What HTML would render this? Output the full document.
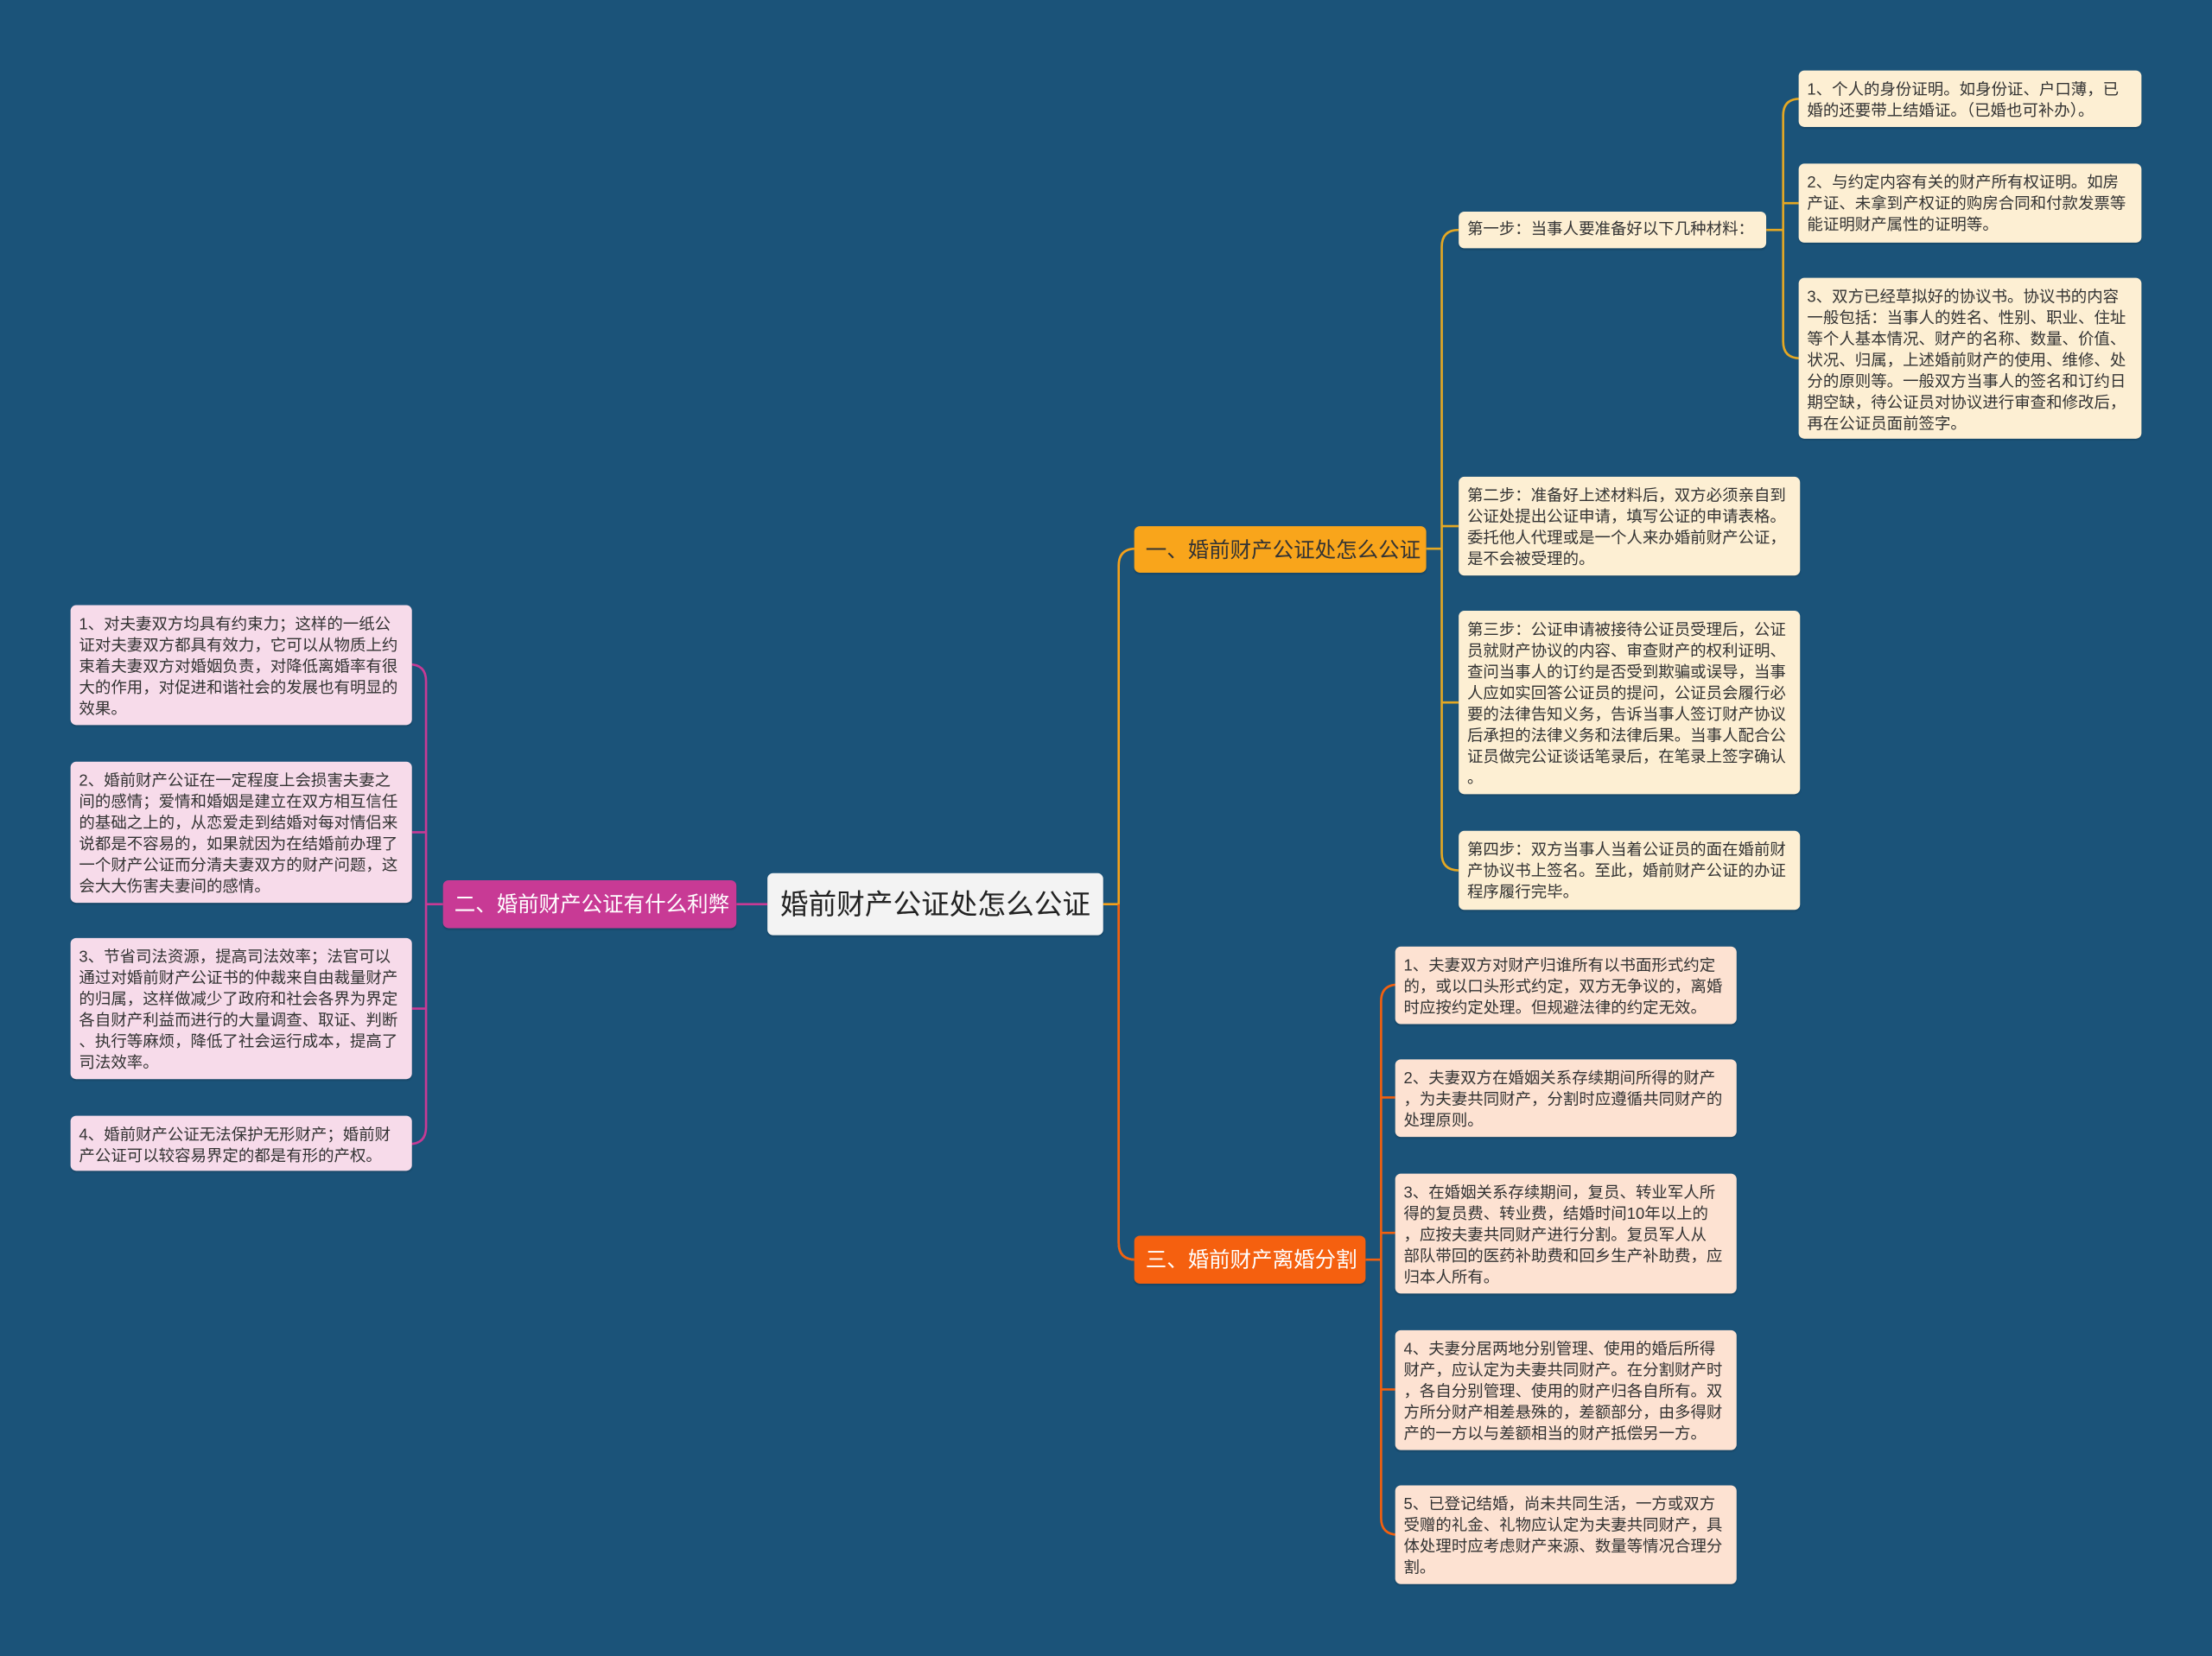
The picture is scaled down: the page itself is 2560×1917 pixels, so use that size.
<!DOCTYPE html>
<html><head><meta charset="utf-8"><style>
html,body{margin:0;padding:0;background:#1b5379;}
#wrap{width:1568px;height:1174px;transform:scale(1.632653,1.632929);transform-origin:0 0;position:relative;font-family:"Liberation Sans","Noto Sans CJK SC",sans-serif;}
.n{position:absolute;box-sizing:border-box;border-radius:4px;font-size:11.3px;line-height:15px;color:#333;padding:7px 6px 5px;white-space:nowrap;overflow:hidden;box-shadow:0 1px 1px rgba(0,0,0,.15);}
.c{background:#fdefd3;}
.p{background:#f7dbea;}
.r{background:#fde2d2;}
svg{position:absolute;left:0;top:0;}
</style></head><body><div id="wrap">
<svg width="1568" height="1174" fill="none" stroke-width="1.6">
<path d="M782 641 H793 M793 401 Q793 389 805 389 M793 401 V881 Q793 893 805 893" stroke="#f5a11a"/>
<path d="M793 641 V881 Q793 893 805 893" stroke="#f2600f"/>
<path d="M544 641 H522" stroke="#c83a95"/>
<path d="M314 641 H302 M302 483 Q302 471 290 471 M302 483 V799 Q302 811 290 811 M302 590 H292 M302 715 H292" stroke="#c83a95"/>
<path d="M1011 389 H1022 M1022 175 Q1022 163 1034 163 M1022 175 V605 Q1022 617 1034 617 M1022 373 H1034 M1022 498 H1034" stroke="#e5a823"/>
<path d="M1252 163 H1264 M1264 82 Q1264 70 1276 70 M1264 82 V242 Q1264 254 1276 254 M1264 144 H1275" stroke="#e5a823"/>
<path d="M968 893 H979 M979 710 Q979 698 991 698 M979 710 V1076 Q979 1088 991 1088 M979 778 H989 M979 874 H989 M979 985 H989" stroke="#f2600f"/>
</svg>

<div class="n" style="left:544px;top:619px;width:238px;height:44px;background:#f3f3f3;font-size:20px;line-height:24px;padding:11px 9px;color:#222;">婚前财产公证处怎么公证</div>
<div class="n" style="left:314px;top:624px;width:208px;height:34px;background:#c83a95;color:#fff;font-size:15px;line-height:20px;padding:8px 8px;">二、婚前财产公证有什么利弊</div>
<div class="n" style="left:804px;top:373px;width:207px;height:33px;background:#f9a51b;color:#333;font-size:15px;line-height:20px;padding:8px 8px;">一、婚前财产公证处怎么公证</div>
<div class="n" style="left:804px;top:876px;width:164px;height:34px;background:#f5600f;color:#fff;font-size:15px;line-height:20px;padding:8px 8px;">三、婚前财产离婚分割</div>

<div class="n p" style="left:50px;top:429px;width:242px;height:85px;">1、对夫妻双方均具有约束力；这样的一纸公<br>证对夫妻双方都具有效力，它可以从物质上约<br>束着夫妻双方对婚姻负责，对降低离婚率有很<br>大的作用，对促进和谐社会的发展也有明显的<br>效果。</div>
<div class="n p" style="left:50px;top:540px;width:242px;height:100px;">2、婚前财产公证在一定程度上会损害夫妻之<br>间的感情；爱情和婚姻是建立在双方相互信任<br>的基础之上的，从恋爱走到结婚对每对情侣来<br>说都是不容易的，如果就因为在结婚前办理了<br>一个财产公证而分清夫妻双方的财产问题，这<br>会大大伤害夫妻间的感情。</div>
<div class="n p" style="left:50px;top:665px;width:242px;height:100px;">3、节省司法资源，提高司法效率；法官可以<br>通过对婚前财产公证书的仲裁来自由裁量财产<br>的归属，这样做减少了政府和社会各界为界定<br>各自财产利益而进行的大量调查、取证、判断<br>、执行等麻烦，降低了社会运行成本，提高了<br>司法效率。</div>
<div class="n p" style="left:50px;top:791px;width:242px;height:39px;">4、婚前财产公证无法保护无形财产；婚前财<br>产公证可以较容易界定的都是有形的产权。</div>

<div class="n c" style="left:1034px;top:150px;width:218px;height:26px;padding:6px 6px;">第一步：当事人要准备好以下几种材料：</div>
<div class="n c" style="left:1034px;top:338px;width:242px;height:70px;">第二步：准备好上述材料后，双方必须亲自到<br>公证处提出公证申请，填写公证的申请表格。<br>委托他人代理或是一个人来办婚前财产公证，<br>是不会被受理的。</div>
<div class="n c" style="left:1034px;top:433px;width:242px;height:130px;">第三步：公证申请被接待公证员受理后，公证<br>员就财产协议的内容、审查财产的权利证明、<br>查问当事人的订约是否受到欺骗或误导，当事<br>人应如实回答公证员的提问，公证员会履行必<br>要的法律告知义务，告诉当事人签订财产协议<br>后承担的法律义务和法律后果。当事人配合公<br>证员做完公证谈话笔录后，在笔录上签字确认<br>。</div>
<div class="n c" style="left:1034px;top:589px;width:242px;height:56px;">第四步：双方当事人当着公证员的面在婚前财<br>产协议书上签名。至此，婚前财产公证的办证<br>程序履行完毕。</div>

<div class="n c" style="left:1275px;top:50px;width:243px;height:40px;">1、个人的身份证明。如身份证、户口薄，已<br>婚的还要带上结婚证。（已婚也可补办）。</div>
<div class="n c" style="left:1275px;top:116px;width:243px;height:56px;">2、与约定内容有关的财产所有权证明。如房<br>产证、未拿到产权证的购房合同和付款发票等<br>能证明财产属性的证明等。</div>
<div class="n c" style="left:1275px;top:197px;width:243px;height:114px;">3、双方已经草拟好的协议书。协议书的内容<br>一般包括：当事人的姓名、性别、职业、住址<br>等个人基本情况、财产的名称、数量、价值、<br>状况、归属，上述婚前财产的使用、维修、处<br>分的原则等。一般双方当事人的签名和订约日<br>期空缺，待公证员对协议进行审查和修改后，<br>再在公证员面前签字。</div>

<div class="n r" style="left:989px;top:671px;width:242px;height:55px;">1、夫妻双方对财产归谁所有以书面形式约定<br>的，或以口头形式约定，双方无争议的，离婚<br>时应按约定处理。但规避法律的约定无效。</div>
<div class="n r" style="left:989px;top:751px;width:242px;height:55px;">2、夫妻双方在婚姻关系存续期间所得的财产<br>，为夫妻共同财产，分割时应遵循共同财产的<br>处理原则。</div>
<div class="n r" style="left:989px;top:832px;width:242px;height:85px;">3、在婚姻关系存续期间，复员、转业军人所<br>得的复员费、转业费，结婚时间10年以上的<br>，应按夫妻共同财产进行分割。复员军人从<br>部队带回的医药补助费和回乡生产补助费，应<br>归本人所有。</div>
<div class="n r" style="left:989px;top:943px;width:242px;height:85px;">4、夫妻分居两地分别管理、使用的婚后所得<br>财产，应认定为夫妻共同财产。在分割财产时<br>，各自分别管理、使用的财产归各自所有。双<br>方所分财产相差悬殊的，差额部分，由多得财<br>产的一方以与差额相当的财产抵偿另一方。</div>
<div class="n r" style="left:989px;top:1053px;width:242px;height:70px;">5、已登记结婚，尚未共同生活，一方或双方<br>受赠的礼金、礼物应认定为夫妻共同财产，具<br>体处理时应考虑财产来源、数量等情况合理分<br>割。</div>
</div></body></html>
